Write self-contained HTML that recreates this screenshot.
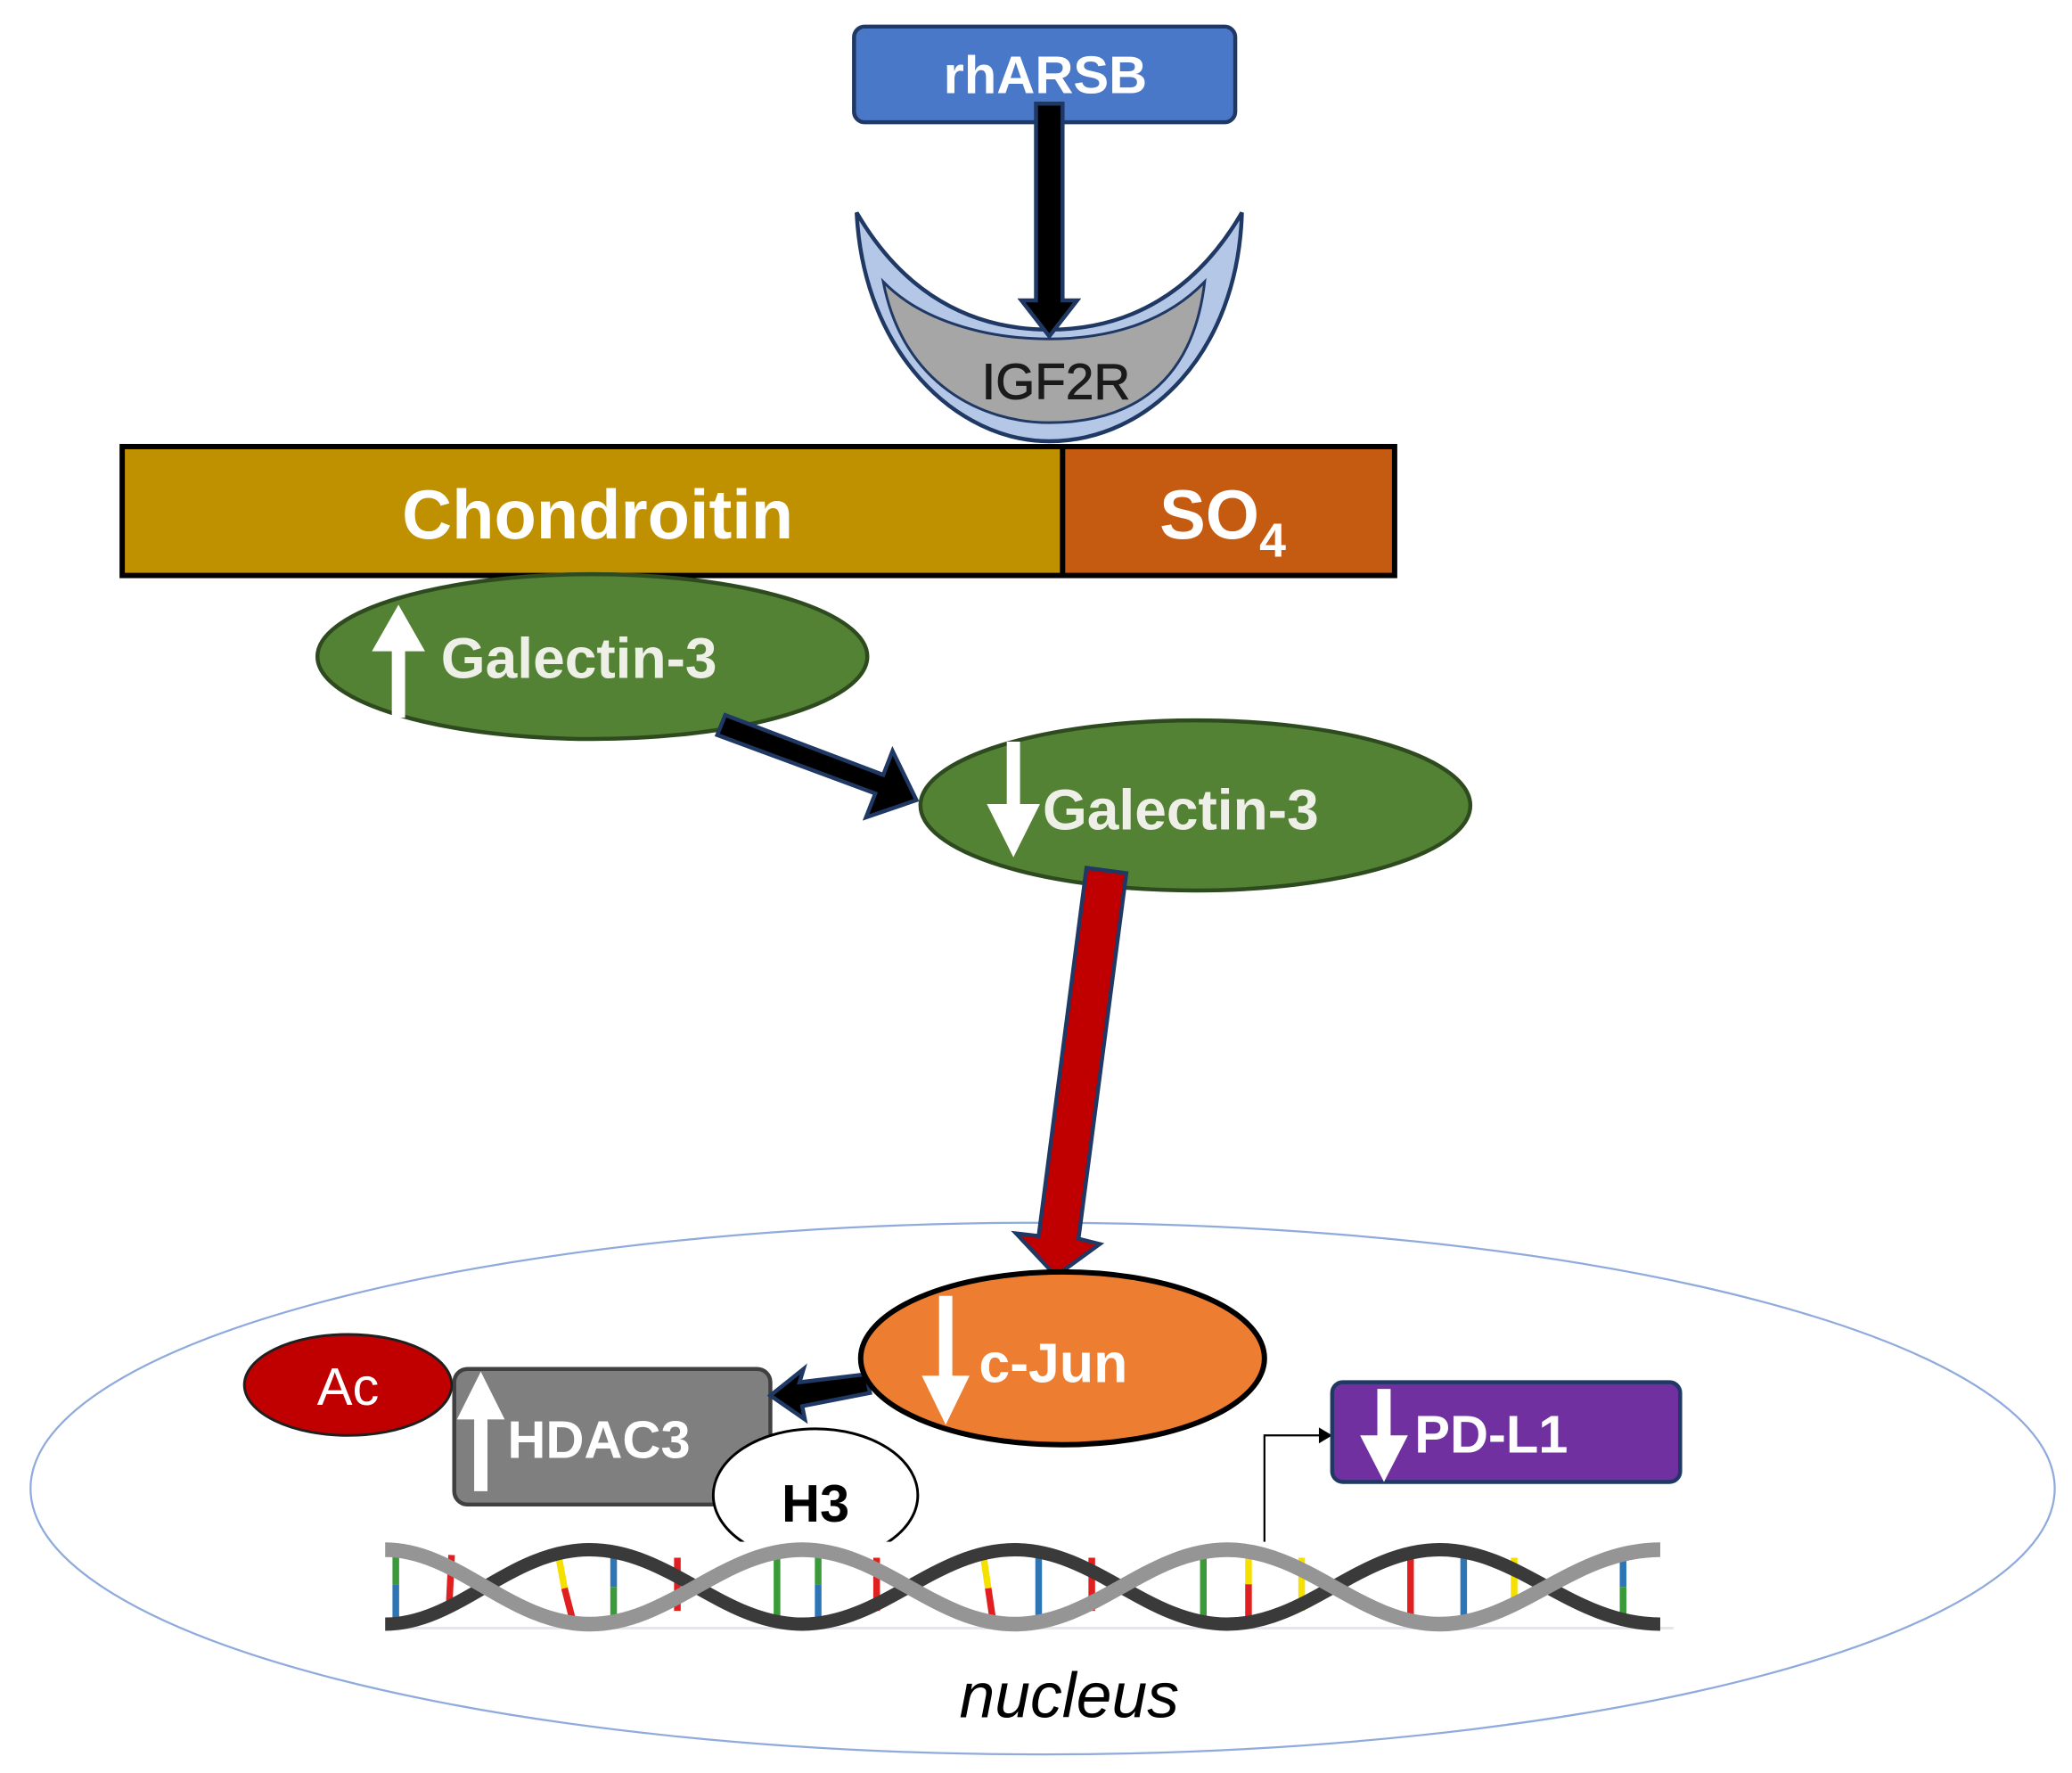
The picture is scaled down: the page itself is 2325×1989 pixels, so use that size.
<!DOCTYPE html>
<html><head><meta charset="utf-8"><style>html,body{margin:0;padding:0;background:#fff}svg{display:block}</style></head>
<body>
<svg width="2325" height="1989" viewBox="0 0 1560 1334" preserveAspectRatio="none" xmlns="http://www.w3.org/2000/svg" font-family="Liberation Sans, Arial, sans-serif">
<ellipse cx="785" cy="1120" rx="762" ry="200" fill="none" stroke="#8faadc" stroke-width="1.5"/>
<text x="805" y="1292" font-size="48" font-style="italic" text-anchor="middle" fill="#000">nucleus</text>

<rect x="643" y="20" width="287" height="72" rx="8" fill="#4a78c8" stroke="#1f3864" stroke-width="3"/>
<text x="787" y="70" font-size="40" font-weight="bold" fill="#fff" text-anchor="middle">rhARSB</text>

<path d="M645,160 C650,265 720,332 790,332 C865,332 932,265 935,160 C900,220 850,248 790,248 C730,248 680,220 645,160 Z" fill="#b4c7e7" stroke="#1f3864" stroke-width="3"/>
<path d="M665,212 C680,290 740,318 790,318 C850,318 898,290 907,212 C880,240 840,255 790,255 C740,255 692,240 665,212 Z" fill="#a6a6a6" stroke="#1f3864" stroke-width="2"/>
<text x="795" y="300" font-size="38" fill="#1a1a1a" text-anchor="middle" stroke="#1a1a1a" stroke-width="0.6">IGF2R</text>
<polygon points="780,78 800,78 800,226 811,226 790,253 769,226 780,226" fill="#000" stroke="#1f3864" stroke-width="3"/>

<rect x="92" y="336" width="708" height="97" fill="#bf9000"/>
<rect x="800" y="336" width="250" height="97" fill="#c55a11"/>
<rect x="92" y="336" width="958" height="97" fill="none" stroke="#000" stroke-width="4"/>
<line x1="800" y1="336" x2="800" y2="433" stroke="#000" stroke-width="4"/>
<text x="450" y="405" font-size="52" font-weight="bold" fill="#fff" text-anchor="middle">Chondroitin</text>
<text x="873" y="405" font-size="52" font-weight="bold" fill="#fff">SO<tspan font-size="36" dy="14">4</tspan></text>

<ellipse cx="446" cy="494" rx="207" ry="62" fill="#548235" stroke="#2e4a1f" stroke-width="3"/>
<polygon points="295,540 305,540 305,490 320,490 300,455 280,490 295,490" fill="#fff"/>
<text x="332" y="510" font-size="43" font-weight="bold" fill="#eef0e8">Galectin-3</text>

<polygon points="540,553 546,538 665,583 672,565 690,602 652,615 659,597" fill="#000" stroke="#1f3864" stroke-width="3"/>

<ellipse cx="900" cy="606" rx="207" ry="64" fill="#548235" stroke="#2e4a1f" stroke-width="3"/>
<polygon points="758,558 768,558 768,605 783,605 763,645 743,605 758,605" fill="#fff"/>
<text x="785" y="624" font-size="43" font-weight="bold" fill="#eef0e8">Galectin-3</text>

<polygon points="818,653 848,657 812,932 828,936 795,960 765,928 782,930" fill="#c00000" stroke="#1f3864" stroke-width="3"/>

<polyline points="952,1163 952,1080 996,1080" fill="none" stroke="#000" stroke-width="1.5"/>
<polygon points="1003,1080 993,1074 993,1086" fill="#000"/>

<rect x="1003" y="1040" width="262" height="75" rx="8" fill="#7030a0" stroke="#1f3864" stroke-width="3"/>
<polygon points="1037,1045 1047,1045 1047,1080 1060,1080 1042,1115 1024,1080 1037,1080" fill="#fff"/>
<text x="1065" y="1093" font-size="40" font-weight="bold" fill="#fff">PD-L1</text>

<rect x="342" y="1030" width="238" height="102" rx="10" fill="#7f7f7f" stroke="#404040" stroke-width="3"/>
<polygon points="357,1122 367,1122 367,1068 380,1068 362,1032 344,1068 357,1068" fill="#fff"/>
<text x="382" y="1097" font-size="40" font-weight="bold" fill="#fff">HDAC3</text>

<ellipse cx="614" cy="1125" rx="77" ry="50" fill="#fff" stroke="#000" stroke-width="2"/>
<text x="614" y="1145" font-size="40" font-weight="bold" fill="#000" text-anchor="middle">H3</text>

<!-- DNA -->
<rect x="293" y="1160" width="967" height="66" fill="#fff"/>
<line x1="293" y1="1225" x2="1260" y2="1225" stroke="#e4e8ee" stroke-width="2"/>
<g stroke-width="5">
<line x1="298" y1="1165" x2="298" y2="1192" stroke="#3a9a3a"/><line x1="298" y1="1192" x2="298" y2="1222" stroke="#2e75b6"/>
<line x1="340" y1="1170" x2="338" y2="1212" stroke="#e02020"/>
<line x1="420" y1="1168" x2="425" y2="1195" stroke="#f5e000"/><line x1="425" y1="1195" x2="432" y2="1222" stroke="#e02020"/>
<line x1="462" y1="1165" x2="462" y2="1194" stroke="#2e75b6"/><line x1="462" y1="1194" x2="462" y2="1222" stroke="#3a9a3a"/>
<line x1="510" y1="1172" x2="510" y2="1212" stroke="#e02020"/>
<line x1="585" y1="1165" x2="585" y2="1222" stroke="#3a9a3a"/>
<line x1="616" y1="1165" x2="616" y2="1192" stroke="#3a9a3a"/><line x1="616" y1="1192" x2="616" y2="1222" stroke="#2e75b6"/>
<line x1="660" y1="1172" x2="660" y2="1212" stroke="#e02020"/>
<line x1="740" y1="1168" x2="744" y2="1195" stroke="#f5e000"/><line x1="744" y1="1195" x2="748" y2="1222" stroke="#e02020"/>
<line x1="782" y1="1165" x2="782" y2="1222" stroke="#2e75b6"/>
<line x1="822" y1="1172" x2="822" y2="1212" stroke="#e02020"/>
<line x1="906" y1="1165" x2="906" y2="1222" stroke="#3a9a3a"/>
<line x1="940" y1="1165" x2="940" y2="1192" stroke="#f5e000"/><line x1="940" y1="1192" x2="940" y2="1222" stroke="#e02020"/>
<line x1="980" y1="1172" x2="980" y2="1212" stroke="#f5e000"/>
<line x1="1062" y1="1165" x2="1062" y2="1222" stroke="#e02020"/>
<line x1="1102" y1="1165" x2="1102" y2="1222" stroke="#2e75b6"/>
<line x1="1140" y1="1172" x2="1140" y2="1212" stroke="#f5e000"/>
<line x1="1222" y1="1165" x2="1222" y2="1194" stroke="#2e75b6"/><line x1="1222" y1="1194" x2="1222" y2="1222" stroke="#3a9a3a"/>
</g>
<g fill="none">
<path d="M290,1222 C345,1222 384,1166 444,1166 S544,1222 604,1222 S704,1166 764,1166 S864,1222 924,1222 S1024,1166 1084,1166 S1184,1222 1250,1222" stroke="#3a3a3a" stroke-width="10"/>
<path d="M290,1166 C345,1166 384,1222 444,1222 S544,1166 604,1166 S704,1222 764,1222 S864,1166 924,1166 S1024,1222 1084,1222 S1184,1166 1250,1166" stroke="#959595" stroke-width="11"/>
</g>

<rect x="740" y="1140" width="10" height="5" fill="none"/>

<polygon points="580,1050 605,1030 602,1040 652,1034 655,1048 604,1058 606,1068" fill="#000" stroke="#1f3864" stroke-width="3"/>

<ellipse cx="262" cy="1042" rx="78" ry="38" fill="#c00000" stroke="#1f1f1f" stroke-width="2"/>
<text x="262" y="1057" font-size="40" fill="#fff" text-anchor="middle">Ac</text>

<ellipse cx="800" cy="1022" rx="152" ry="65" fill="#ed7d31" stroke="#000" stroke-width="4"/>
<polygon points="707,975 717,975 717,1035 730,1035 712,1072 694,1035 707,1035" fill="#fff"/>
<text x="737" y="1040" font-size="42" font-weight="bold" fill="#fff">c-Jun</text>
</svg>
</body></html>
